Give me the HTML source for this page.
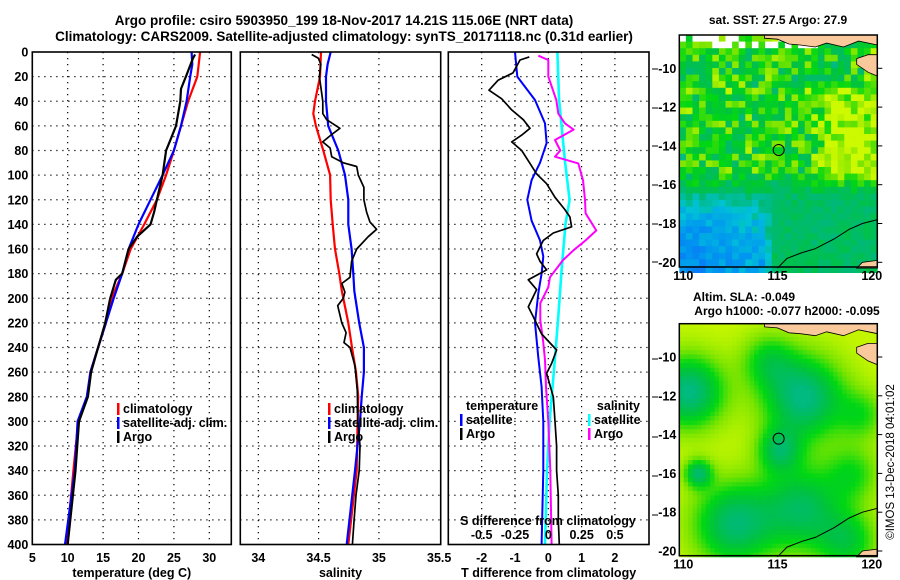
<!DOCTYPE html>
<html><head><meta charset="utf-8">
<style>
body{margin:0;background:#fff;}
svg{display:block;font-family:"Liberation Sans",Arial,sans-serif;font-weight:bold;}
</style></head>
<body>
<svg id="fig" width="900" height="580" viewBox="0 0 900 580" xmlns="http://www.w3.org/2000/svg">
<rect width="900" height="580" fill="#fff"/>
<text x="344" y="25" font-size="13.5" text-anchor="middle">Argo profile: csiro 5903950_199 18-Nov-2017 14.21S 115.06E (NRT data)</text>
<text x="344" y="41" font-size="13.5" text-anchor="middle">Climatology: CARS2009. Satellite-adjusted climatology: synTS_20171118.nc (0.31d earlier)</text>
<g id="g1"></g>
<g id="g2"></g>
<g id="g3"></g>
<g id="m1"></g>
<g id="m2"></g>
<text x="778" y="24" font-size="12" text-anchor="middle">sat. SST: 27.5 Argo: 27.9</text>
<text x="744" y="301" font-size="12" text-anchor="middle">Altim. SLA: -0.049</text>
<text x="787" y="315" font-size="12" text-anchor="middle">Argo h1000: -0.077 h2000: -0.095</text>
<text x="0" y="0" font-size="11.5" font-weight="normal" text-anchor="middle" transform="translate(894,462) rotate(-90)">©IMOS 13-Dec-2018 04:01:02</text>
</svg>
<script>
// ---- data ----
const depthTicks=[0,20,40,60,80,100,120,140,160,180,200,220,240,260,280,300,320,340,360,380,400];
const tempTicks=[5,10,15,20,25,30];
const salTicks=[34,34.5,35,35.5];
const salTickLabels=["34","34.5","35","35.5"];
const tdTicks=[-2,-1,0,1,2];
const sdTicks=[-0.5,-0.25,0,0.25,0.5];
const sdTickLabels=["-0.5","-0.25","0","0.25","0.5"];

const climTempDepth=[0,20,40,60,80,100,120,140,160,180,200,220,240,260,280,300,340,400];
const climTemp=[28.7,28.3,27.0,26.0,25.0,23.9,22.6,20.8,18.9,17.7,16.2,15.4,14.3,13.2,12.8,11.5,10.8,9.85];
const satTempDepth=[0,10,20,40,60,80,100,120,140,160,180,200,220,240,260,280,300,340,400];
const satTemp=[27.5,27.6,27.3,26.8,26.0,25.0,23.4,21.7,20.0,18.6,17.7,16.5,15.4,14.3,13.2,12.7,11.4,11.0,9.62];
const argoTempDepth=[2,5,20,30,40,60,70,80,100,120,130,140,150,160,180,185,200,220,240,260,280,300,340,400];
const argoTemp=[28.0,27.7,26.7,26.0,25.9,25.3,24.6,23.9,23.4,22.6,22.2,21.7,19.8,18.6,17.7,16.8,16.0,15.3,14.3,13.3,12.85,11.6,11.1,10.0];

const climSalDepth=[0,20,40,50,60,80,100,120,140,160,180,194,220,240,260,280,300,340,400];
const climSal=[34.520,34.512,34.470,34.456,34.478,34.539,34.595,34.600,34.617,34.636,34.672,34.692,34.746,34.777,34.810,34.829,34.823,34.816,34.746];
const satSalDepth=[0,10,20,40,60,80,100,120,140,160,180,194,220,240,260,280,300,340,400];
const satSal=[34.600,34.575,34.561,34.561,34.580,34.663,34.719,34.746,34.746,34.774,34.788,34.796,34.837,34.876,34.876,34.857,34.843,34.802,34.733];
const argoSalDepth=[2,5,10,20,30,40,50,55,62,67,73,78,85,90,93,100,110,120,130,138,144,150,160,170,183,188,195,200,206,220,228,236,240,255,275,300,320,340,360,380,400];
const argoSal=[34.443,34.498,34.518,34.507,34.521,34.535,34.535,34.567,34.677,34.609,34.534,34.595,34.609,34.705,34.816,34.829,34.876,34.876,34.898,34.925,34.981,34.911,34.816,34.774,34.760,34.692,34.718,34.705,34.658,34.692,34.728,34.711,34.760,34.802,34.821,34.826,34.843,34.837,34.810,34.794,34.780];

const argoTdDepth=[4,6.5,17,23,31,38,47,55,62,67.5,73,80,90.5,99,107,118,128,134,142,147,153,164,170,177,185,193,207,215,229,242,253,261,280,300,320,340,360,380,400];
const argoTd=[-0.57,-0.85,-1.06,-1.51,-1.78,-1.4,-1.1,-0.75,-0.55,-0.8,-1.1,-0.8,-0.55,-0.35,-0.05,0.2,0.5,0.65,0.7,0.15,-0.15,-0.35,-0.25,-0.05,-0.6,-0.35,-0.6,-0.45,-0.2,0.25,0.1,-0.05,0.15,0.2,0.25,0.25,0.3,0.3,0.33];
const satTdDepth=[0,20,39,58,74,90,104,120,137,153,166,180,196,220,248,272,300,340,400];
const satTd=[-1.0,-0.93,-0.4,-0.1,-0.05,-0.25,-0.5,-0.63,-0.5,-0.25,-0.15,-0.2,-0.3,-0.4,-0.3,-0.2,-0.15,-0.15,-0.2];
const argoSdDepth=[3,6.5,20,39,50,58,63,71.5,80,85,90.5,104,120,131,145,153,161,169,183,191,204,218,234,250,272,300,340,400];
const argoSd=[-0.075,0,0,0.06,0.075,0.125,0.19,0.05,0.09,0.05,0.225,0.26,0.275,0.28,0.36,0.28,0.19,0.11,0.012,0,-0.06,-0.06,-0.04,-0.025,-0.017,0.0,0.015,0.025];
const satSdDepth=[0,38,89,120,139,177,215,262,300,340,400];
const satSd=[0.068,0.08,0.125,0.16,0.13,0.1,0.075,0.04,0.01,-0.01,-0.025];

// ---- helpers ----
const NS="http://www.w3.org/2000/svg";
function mk(tag,attrs,parent){const e=document.createElementNS(NS,tag);for(const k in attrs)e.setAttribute(k,attrs[k]);parent.appendChild(e);return e;}
const Y0=52,Y1=544.5;
const yD=d=>Y0+(d/400)*(Y1-Y0);

function panel(g,x0,x1,vticks,xOf,ticklabels,showY,xlabel){
  vticks.forEach(v=>{const x=xOf(v);if(x>x0+2&&x<x1-2){const l=mk('line',{x1:x,x2:x,y1:Y0,y2:Y1,stroke:'#000','stroke-width':1.2,'stroke-dasharray':'1.2,4.8'},g);
  
  }});
  depthTicks.forEach(d=>{const y=yD(d);if(d>0&&d<400){const l=mk('line',{x1:x0,x2:x1,y1:y,y2:y,stroke:'#000','stroke-width':1.2,'stroke-dasharray':'1.2,4.8'},g);
  
  }
  if(showY){const t=mk('text',{x:x0-4,y:y+4.5,'font-size':12.5,'text-anchor':'end'},g);t.textContent=d;
  
  }});
  vticks.forEach((v,i)=>{if(ticklabels===null)return;const t=mk('text',{x:xOf(v),y:562,'font-size':12.5,'text-anchor':'middle'},g);t.textContent=ticklabels?ticklabels[i]:v;
  
  });
  const xl=mk('text',{x:(x0+x1)/2,y:577,'font-size':12.5,'text-anchor':'middle'},g);xl.textContent=xlabel;
  
  
}
function frame(g,x0,x1){const r=mk('rect',{x:x0,y:Y0,width:x1-x0,height:Y1-Y0,fill:'none',stroke:'#000','stroke-width':1.6},g);
  
  }
function line(g,ds,vs,xOf,color,w,name){
  const p=ds.map((d,i)=>xOf(vs[i]).toFixed(1)+','+yD(d).toFixed(1)).join(' ');
  const e=mk('polyline',{points:p,fill:'none',stroke:color,'stroke-width':w,'stroke-linejoin':'round'},g);
  
  
}
function legend(g,x,y,items){
  items.forEach((it,i)=>{
    const yy=y+i*14;
    const m=mk('rect',{x:x,y:yy-10,width:2.5,height:12,fill:it[1]},g);
    
    
    const t=mk('text',{x:x+(it[2]||6),y:yy,'font-size':12.5,'text-anchor':it[3]||'start'},g);t.textContent=it[0];
    
    
  });
}

// panel 1 temperature
const g1=document.getElementById('g1');
const xT=v=>32.3+(v-5)*7.08;
panel(g1,32.3,231.3,tempTicks,xT,undefined,true,'temperature (deg C)');
line(g1,climTempDepth,climTemp,xT,'#f00',2.2,'climatology-temp-line');
line(g1,satTempDepth,satTemp,xT,'#00f',2.2,'satellite-temp-line');
line(g1,argoTempDepth,argoTemp,xT,'#000',2.2,'argo-temp-line');
frame(g1,32.3,231.3);
legend(g1,117,413,[['climatology','#f00'],['satellite-adj. clim.','#00f'],['Argo','#000']]);

// panel 2 salinity
const g2=document.getElementById('g2');
const xS=v=>258.3+(v-34)*120.6;
panel(g2,240.3,440.7,salTicks,xS,salTickLabels,false,'salinity');
line(g2,climSalDepth,climSal,xS,'#f00',2.2,'climatology-salinity-line');
line(g2,satSalDepth,satSal,xS,'#00f',2.2,'satellite-salinity-line');
line(g2,argoSalDepth,argoSal,xS,'#000',1.7,'argo-salinity-line');
frame(g2,240.3,440.7);
legend(g2,328,413,[['climatology','#f00'],['satellite-adj. clim.','#00f'],['Argo','#000']]);

// panel 3 differences
const g3=document.getElementById('g3');
const xTd=v=>548.3+v*33.3;
const xSd=v=>548.3+v*133.3;
panel(g3,448.3,649,tdTicks,xTd,undefined,false,'T difference from climatology');
line(g3,satTdDepth,satTd,xTd,'#00f',2,'satellite-temp-diff-line');
line(g3,satSdDepth,satSd,xSd,'#0ff',2.6,'satellite-salinity-diff-line');
line(g3,argoSdDepth,argoSd,xSd,'#f0f',2,'argo-salinity-diff-line');
line(g3,argoTdDepth,argoTd,xTd,'#000',1.7,'argo-temp-diff-line');
frame(g3,448.3,649);
legend(g3,460,410,[['temperature','none'],['satellite','#00f'],['Argo','#000']]);
legend(g3,588,410,[['salinity','none',52,'end'],['satellite','#0ff'],['Argo','#f0f']]);
(function(){
  const t=mk('text',{x:548,y:525,'font-size':12.5,'text-anchor':'middle'},g3);t.textContent='S difference from climatology';
  
  
  sdTicks.forEach((v,i)=>{const l=mk('text',{x:xSd(v),y:539,'font-size':12.5,'text-anchor':'middle'},g3);l.textContent=sdTickLabels[i];
  
  });
  [69,108,146,185,224,262,359,397,437,476,515].forEach(y=>{const k=mk('line',{x1:652,x2:658,y1:y,y2:y,stroke:'#000','stroke-width':1},g3);
  
  });
})();

// ---- maps ----
function hash(i,j){let h=(i*374761393+j*668265263)>>>0;h=(h^(h>>>13))*1274126177>>>0;return ((h^(h>>>16))>>>0)/4294967295;}
const pal=[[0,[20,90,255]],[0.2,[0,150,240]],[0.32,[0,195,215]],[0.45,[0,185,120]],[0.58,[0,195,60]],[0.68,[0,215,20]],[0.8,[120,228,0]],[0.92,[195,245,0]],[1,[205,250,0]]];
function col(v){v=Math.max(0,Math.min(1,v));for(let k=1;k<pal.length;k++){if(v<=pal[k][0]){const a=pal[k-1],b=pal[k];const t=(v-a[0])/(b[0]-a[0]);return 'rgb('+[0,1,2].map(c=>Math.round(a[1][c]+t*(b[1][c]-a[1][c]))).join(',')+')';}}return 'rgb(205,250,0)';}
function g2d(x,y,cx,cy,s){return Math.exp(-((x-cx)**2+(y-cy)**2)/(2*s*s));}
function clamp(v){return Math.max(0,Math.min(1,v));}
function drawMap(gid,top,sst){
  const g=document.getElementById(gid);
  const X0=679.3,X1=877.3,Yt=top,Yb=top+232;
  const lonX=l=>683.3+(l-110)*18.85;
  const latY=l=>top+33.3+(l+10)*(-19.4);
  const cs=sst?6.6:4.4;
  for(let i=0;i*cs<X1-X0;i++)for(let j=0;j*cs<Yb-Yt;j++){
    const x=X0+i*cs,y=Yt+j*cs;
    const lon=110+(x+cs/2-683.3)/18.85, lat=-10-(y+cs/2-(top+33.3))/19.4;
    let v;
    if(sst){
      const n=hash(i,j), n2=hash(j+17,i+5);
      if(lat>-9.0&&n<0.45&&lon<117.5){v=-1;}
      else{
        v=0.68+(n-0.5)*0.38+(n2-0.5)*0.12;
        v+=0.24*clamp((lon-116.8)/1.0)*clamp((-10.8-lat)/1)*clamp((lat+17.6)/1.2);
        if(lat<-15.3){const b=clamp((-15.3-lat)/1.2);v=v*(1-b)+b*(0.5+(n-0.5)*0.1);}
        if(lat<-16.2&&lon<114.8){const b=clamp((-16.2-lat)/1.2)*clamp((114.8-lon)/0.6);v=v*(1-b)+b*(0.34-0.1*clamp((-17.5-lat)/2)-0.08*clamp((113.5-lon)/3)+(n-0.5)*0.14);}
      }
    }else{
      v=0.93-0.5*g2d(lon,lat,110.3,-11.8,1.3)-0.5*g2d(lon,lat,116.4,-12.1,1.5)-0.35*g2d(lon,lat,115.1,-14.8,0.8)
        -0.42*g2d(lon,lat,110.8,-16,0.5)-0.45*g2d(lon,lat,112.7,-18.6,1.5)-0.4*g2d(lon,lat,116.3,-17.8,1.5)
        -0.22*g2d(lon,lat,119,-16,1.0)-0.25*g2d(lon,lat,114.5,-10.2,1.0)-0.3*g2d(lon,lat,118.7,-19.5,1.1)-0.2*g2d(lon,lat,119.5,-13,0.9);
      v=Math.max(0.44,v);
    }
    const r=mk('rect',{x:x.toFixed(1),y:y.toFixed(1),width:cs+0.4,height:cs+0.4,fill:v<0?'#fff':col(v)},g);
    
    
  }
  const land=[[[114.3,-8.28],[120.3,-8.28],[120.3,-8.8],[119.3,-8.6],[118.5,-8.9],[117.6,-8.7],[117,-8.9],[116.2,-8.8],[115.6,-8.75],[115,-8.5],[114.3,-8.45]],
              [[119.2,-9.5],[119.8,-9.3],[120.3,-9.3],[120.3,-10.4],[119.8,-10.2],[119.2,-9.8]],
              [[119.2,-20.3],[119.5,-20.0],[120.3,-19.9],[120.3,-20.3]]];
  land.forEach(poly=>{const p=mk('polygon',{points:poly.map(q=>lonX(q[0]).toFixed(1)+','+latY(q[1]).toFixed(1)).join(' '),fill:'#f9c89b',stroke:'#000','stroke-width':0.8},g);
    
    });
  const coast=[[115,-20.3],[115.5,-19.8],[116.3,-19.5],[117,-19.3],[118,-18.8],[118.8,-18.3],[119.5,-18],[120.3,-17.8]];
  const c=mk('polyline',{points:coast.map(q=>lonX(q[0]).toFixed(1)+','+latY(q[1]).toFixed(1)).join(' '),fill:'none',stroke:'#000','stroke-width':1},g);
  
  
  const ci=mk('circle',{cx:lonX(115.06),cy:latY(-14.21),r:5.5,fill:'none',stroke:'#000','stroke-width':1},g);
  
  
  const fr=mk('rect',{x:X0,y:Yt,width:X1-X0,height:Yb-Yt,fill:'none',stroke:'#000','stroke-width':1.5},g);
  
  
  [-10,-12,-14,-16,-18,-20].forEach(l=>{const y=latY(l);
    const t=mk('text',{x:X0-3,y:y+4.5,'font-size':12.5,'text-anchor':'end'},g);t.textContent=String(l);
    
    
    const k=mk('line',{x1:X1,x2:X1+5,y1:y,y2:y,stroke:'#000','stroke-width':1},g);
    
    });
  [110,115,120].forEach(l=>{const x=lonX(l);
    const t=mk('text',{x:x,y:Yb+13,'font-size':12.5,'text-anchor':'middle'},g);t.textContent=l;
    
    });
}
drawMap('m1',35,true);
drawMap('m2',323.7,false);
</script>
</body></html>
